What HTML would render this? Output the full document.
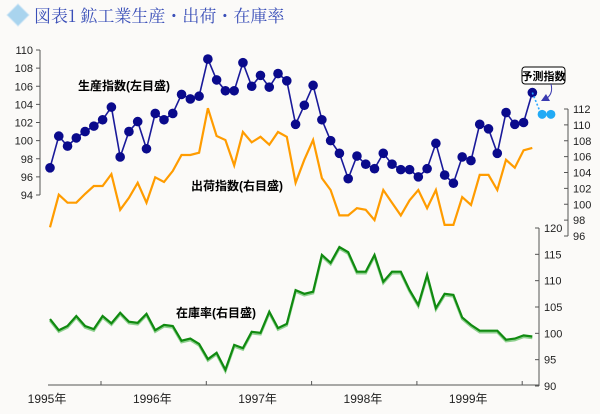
<!DOCTYPE html>
<html><head><meta charset="utf-8">
<style>
html,body{margin:0;padding:0;background:#fbfaf8;}
svg{display:block;font-family:"Liberation Sans","Noto Sans CJK JP",sans-serif;}
</style></head>
<body>
<svg id="c" width="600" height="414" viewBox="0 0 600 414">
<rect width="600" height="414" fill="#fbfaf8"/>
<g>
<polygon points="18,4 29,15 18,26 7,15" fill="#a9d4ee" stroke="#cfe6f5"/>
<text x="34" y="22" font-size="17" fill="#3a4fb8" font-family="'Noto Serif CJK SC','Liberation Serif',serif">図表1 鉱工業生産・出荷・在庫率</text>
</g>
<g id="axes"></g>
<g id="marks"></g>
<g font-size="12" font-weight="bold" fill="#000">
<text x="78" y="90">生産指数(左目盛)</text>
<text x="191" y="190">出荷指数(右目盛)</text>
<text x="176" y="317">在庫率(右目盛)</text>
</g>
<g>
<rect x="522" y="67" width="43" height="17" rx="3" fill="#fff" stroke="#000"/>
<text x="543.5" y="80" font-size="11" font-weight="bold" text-anchor="middle">予測指数</text>
<path d="M551,84 C553,92 550,96 546,99" fill="none" stroke="#3a3ab0"/>
<polygon points="541,101 550,101 546,94" fill="#3a3ab0"/>
</g>
</svg>
<script>
const months = 56;
const production = [97,100.5,99.4,100.3,101,101.6,102.3,103.7,98.2,101,102.1,99.1,103,102.3,103,105.1,104.6,104.9,109,106.7,105.5,105.5,108.6,106,107.2,105.9,107.4,106.6,101.8,103.9,106.1,102.3,100,98.6,95.8,98.3,97.4,96.9,98.6,97.4,96.8,96.8,96,96.9,99.7,96.2,95.3,98.2,97.8,101.8,101.3,98.6,103.1,101.8,102,105.3];
const forecast = [102.9,102.9];
const shipment = [97.1,101.2,100.2,100.2,101.3,102.3,102.3,103.8,99.3,100.8,102.7,100.2,103.4,102.8,104.2,106.2,106.2,106.5,112.1,108.6,108.1,104.9,109.1,107.8,108.5,107.5,109.1,108.5,102.7,105.6,108.1,103.3,101.8,98.6,98.6,99.5,99.3,98,101.8,100.2,98.6,100.5,101.8,99.5,101.8,97.4,97.4,100.9,99.9,103.7,103.7,101.8,105.6,104.6,106.8,107.1];
const inventory = [102.7,100.6,101.4,103.3,101.4,100.8,103.3,101.9,103.9,102.2,102,103.7,100.6,101.6,101.4,98.6,99,98,95.1,96.3,93.1,97.8,97.2,100.3,100.1,104.1,101,101.8,108.2,107.5,107.9,114.9,113.4,116.4,115.4,111.7,111.7,114.9,109.8,111.7,111.7,108.2,105.4,111.1,104.8,107.5,107.3,103,101.6,100.5,100.5,100.5,98.8,99,99.6,99.4];
const leftTicks = [94,96,98,100,102,104,106,108,110];
const shipTicks = [96,98,100,102,104,106,108,110,112];
const invTicks = [90,95,100,105,110,115,120];
const yearLabels = ["1995年","1996年","1997年","1998年","1999年"];

const NS="http://www.w3.org/2000/svg";
const xS = i => 50 + i*8.77;
const yL = v => 50 + (110-v)*(145/16);
const yR = v => 109 + (112-v)*(127/16);
const yI = v => 228 + (120-v)*(158/30);
function mk(tag, attrs, parent){const e=document.createElementNS(NS,tag);for(const k in attrs)e.setAttribute(k,attrs[k]);parent.appendChild(e);return e;}
const axes=document.getElementById('axes'), marks=document.getElementById('marks');

// left axis
let ax=mk('g',{},axes);


mk('line',{x1:40,y1:yL(110),x2:40,y2:yL(94),stroke:'#555'},ax);
leftTicks.forEach(v=>{mk('line',{x1:36,y1:yL(v),x2:40,y2:yL(v),stroke:'#555'},ax);
 const t=mk('text',{x:33,y:yL(v)+4,'font-size':11,'text-anchor':'end',fill:'#222'},ax);t.textContent=v;
 
 });
// shipment right axis
ax=mk('g',{},axes);


mk('line',{x1:568,y1:yR(112),x2:568,y2:yR(96),stroke:'#555'},ax);
shipTicks.forEach(v=>{mk('line',{x1:564,y1:yR(v),x2:568,y2:yR(v),stroke:'#555'},ax);
 const t=mk('text',{x:573,y:yR(v)+4,'font-size':11,fill:'#222'},ax);t.textContent=v;
 
 });
// inventory right axis
ax=mk('g',{},axes);


mk('line',{x1:539,y1:yI(120),x2:539,y2:yI(90),stroke:'#555'},ax);
invTicks.forEach(v=>{mk('line',{x1:535,y1:yI(v),x2:539,y2:yI(v),stroke:'#555'},ax);
 const t=mk('text',{x:544,y:yI(v)+4,'font-size':11,fill:'#222'},ax);t.textContent=v;
 
 });
// x axis
ax=mk('g',{},axes);


mk('line',{x1:48,y1:385,x2:539,y2:385,stroke:'#555'},ax);
[0,1,2,3,4].forEach(k=>mk('line',{x1:101+k*105.3,y1:381,x2:101+k*105.3,y2:385,stroke:'#555'},ax));
yearLabels.forEach((s,k)=>{const t=mk('text',{x:47+k*105.3,y:403,'font-size':12,'text-anchor':'middle',fill:'#222'},ax);t.textContent=s;
 
 });

const pts=(arr,fy)=>arr.map((v,i)=>xS(i).toFixed(1)+','+fy(v).toFixed(1)).join(' ');
// inventory
let g=mk('g',{},marks);


mk('polyline',{points:inventory.map((v,i)=>xS(i).toFixed(1)+','+(yI(v)+1.5).toFixed(1)).join(' '),fill:'none',stroke:'#8fd08f','stroke-width':2.5},g);
mk('polyline',{points:pts(inventory,yI),fill:'none',stroke:'#108a10','stroke-width':2.2},g);
// shipment
g=mk('g',{},marks);


mk('polyline',{points:pts(shipment,yR),fill:'none',stroke:'#ff9c00','stroke-width':2.2},g);
// production
g=mk('g',{},marks);


mk('polyline',{points:pts(production,yL),fill:'none',stroke:'#1a1a9a','stroke-width':1.6},g);
production.forEach((v,i)=>{const c=mk('circle',{cx:xS(i),cy:yL(v),r:4.8,fill:'#0a0a8c'},g);
 
 });
// forecast
g=mk('g',{},marks);


mk('line',{x1:xS(months-1),y1:yL(production[months-1]),x2:xS(months),y2:yL(forecast[0]),stroke:'#2aa8ff','stroke-width':1.6,'stroke-dasharray':'2,2'},g);
forecast.forEach((v,i)=>{const c=mk('circle',{cx:xS(months+i)+1,cy:yL(v),r:4.5,fill:'#22aaf5'},g);
 
 });
</script>
</body></html>
